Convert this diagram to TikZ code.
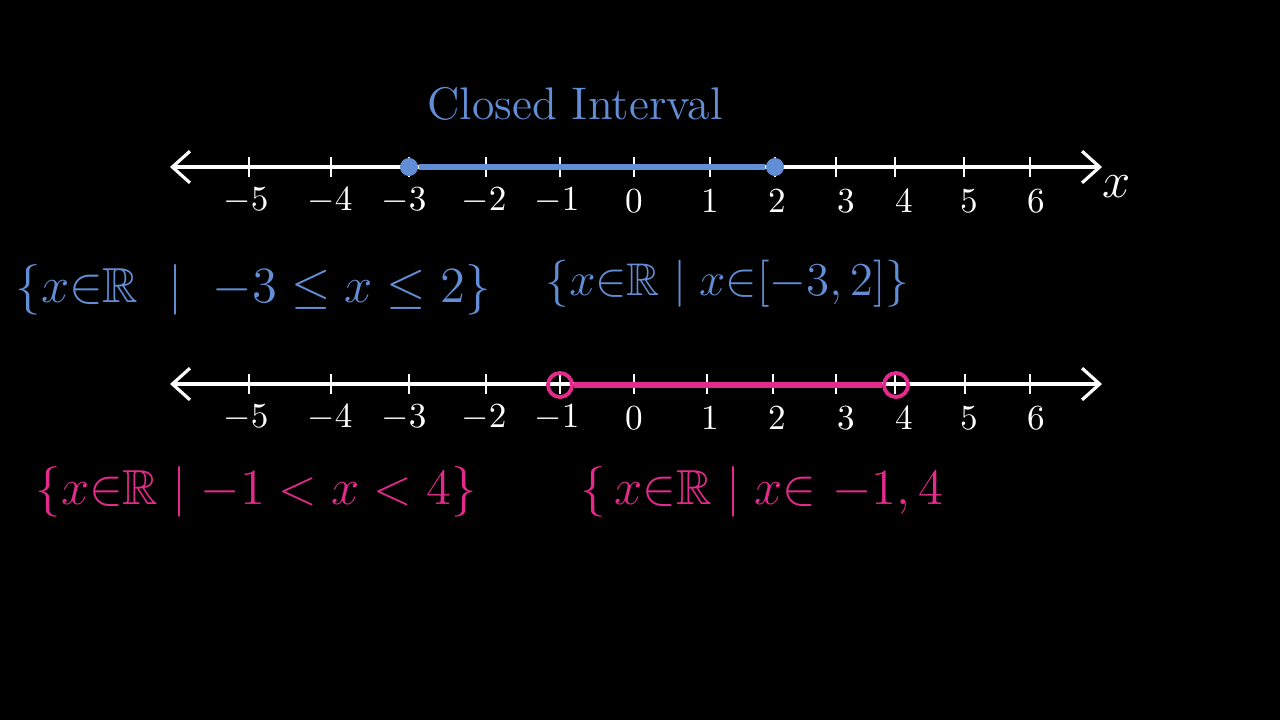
\documentclass[tikz,border=0pt]{standalone}
\usepackage{amsmath,amssymb,graphicx}
\usetikzlibrary{arrows.meta}
\definecolor{chalkblue}{RGB}{98,142,214}
\definecolor{chalkpink}{RGB}{228,42,140}

\begin{document}
\begin{tikzpicture}[x=0.01cm, y=-0.01cm,
  axis/.style={draw=white, line width=0.9pt,
    {Straight Barb[length=5pt,width=9pt]}-{Straight Barb[length=5pt,width=9pt]}},
  tickmark/.style={draw=white, line width=0.8pt},
  num/.style={text=white, font=\fontsize{10}{12}\selectfont},
  setb/.style={text=chalkblue, font=\fontsize{14}{17}\selectfont, anchor=west, inner sep=0pt},
  setp/.style={text=chalkpink, font=\fontsize{14}{17}\selectfont, anchor=west, inner sep=0pt},
  closeddot/.style={circle, fill=chalkblue, inner sep=0pt, minimum size=0.18cm},
  opendot/.style={circle, draw=chalkpink, line width=1.1pt, inner sep=0pt, minimum size=0.24cm}]
\fill[black] (0,0) rectangle (1280,720);
\useasboundingbox (0,0) rectangle (1280,720);
%% ---- closed interval ----
\node[text=chalkblue, font=\fontsize{13}{15}\selectfont] (title) at (575,104) {Closed Interval};
\coordinate (topL) at (170,167);
\coordinate (topR) at (1102,167);
\draw[axis] (topL) -- (topR);
\foreach \v/\px/\lx [count=\i] in {-5/249/246,-4/331/330,-3/409/404,-2/486/484,-1/560/557,
    0/634/634,1/710/710,2/775/777,3/836/846,4/895/904,5/964/969,6/1030/1036} {
  \draw[tickmark] (\px,157) -- (\px,177);
  \node[num] (ta\i) at (\lx,201) {$\v$};
}
\node[text=white, font=\fontsize{15}{18}\selectfont] (xlab) at (1117,187) {$x$};
\node[closeddot] (lo) at (409,167) {};
\node[closeddot] (hi) at (775,167) {};
\draw[chalkblue, line width=1.7pt] (lo) -- (hi);
\node[setb] (ineqA) at (15,290) {$\{x{\in}\mathbb{R}\ \mid\ -3\le x\le 2\}$};
\node[setb] (intA) at (545,284) {\scalebox{0.93}{$\{x{\in}\mathbb{R}\mid x{\in}[-3,2]\}$}};
%% ---- open interval ----
\coordinate (botL) at (170,384);
\coordinate (botR) at (1102,384);
\draw[axis] (botL) -- (botR);
\foreach \v/\px/\lx [count=\i] in {-5/249/246,-4/331/330,-3/409/404,-2/486/484,-1/560/557,
    0/634/634,1/707/710,2/773/777,3/836/846,4/895/904,5/965/969,6/1030/1036} {
  \draw[tickmark] (\px,374) -- (\px,394);
  \node[num] (tb\i) at (\lx,418) {$\v$};
}
\node[opendot] (olo) at (560,385) {};
\node[opendot] (ohi) at (896,385) {};
\draw[chalkpink, line width=1.5pt] (olo) -- (ohi);
\node[setp] (ineqB) at (35,492) {$\{x{\in}\mathbb{R}\mid -1<x<4\}$};
\node[setp] (intB) at (580,492) {$\{\,x{\in}\mathbb{R}\mid x{\in}\ {-1},4$};
\end{tikzpicture}
\end{document}
